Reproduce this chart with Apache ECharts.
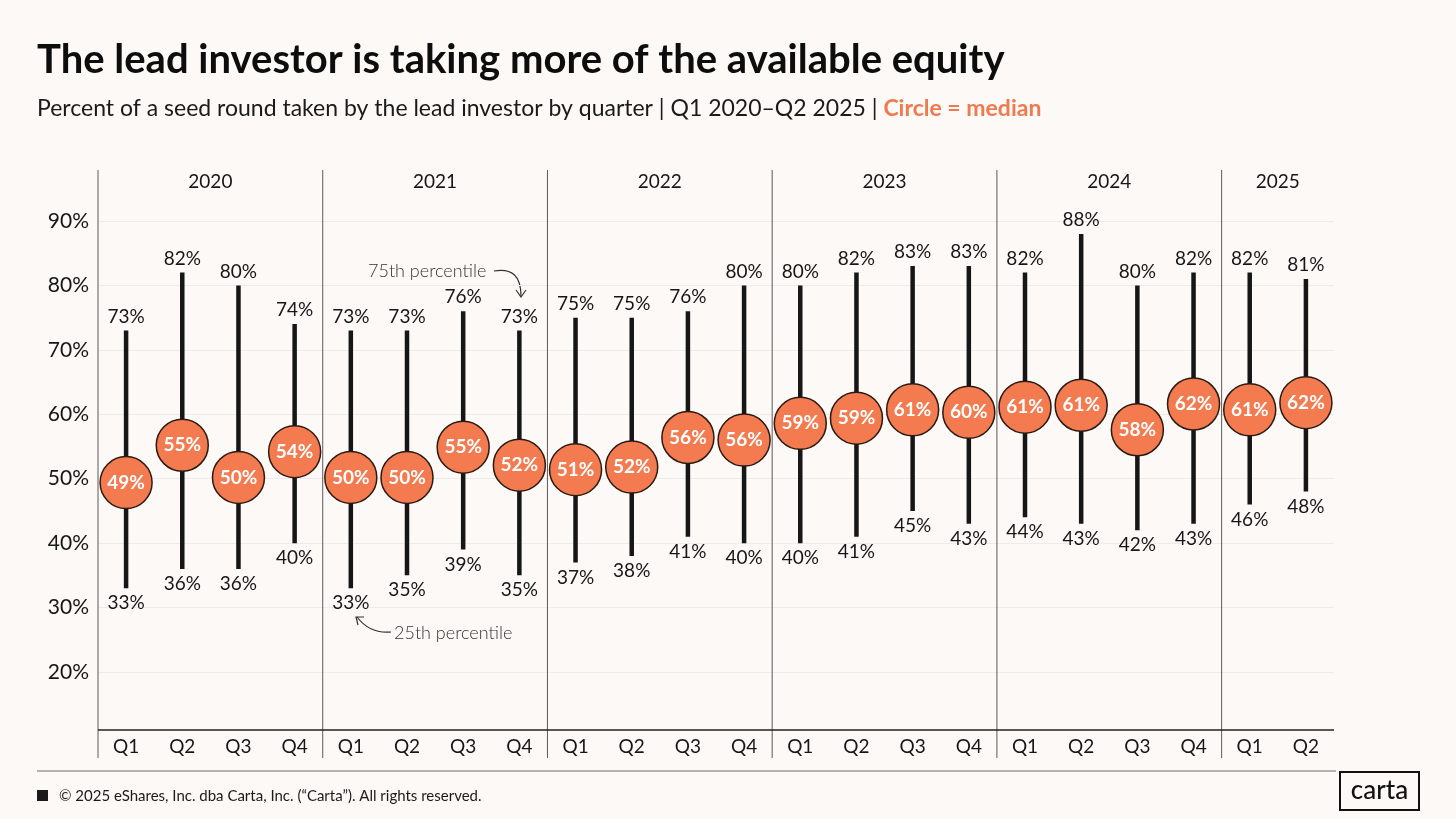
<!DOCTYPE html>
<html><head><meta charset="utf-8">
<script src="https://cdn.jsdelivr.net/npm/echarts@6/dist/echarts.min.js"></script>
<style>html,body{margin:0;padding:0;background:#FCF9F7}#c{width:1456px;height:819px}</style>
</head><body><div id="c"></div>
<script>
// ---- data ----
const quarters = ['Q1','Q2','Q3','Q4','Q1','Q2','Q3','Q4','Q1','Q2','Q3','Q4','Q1','Q2','Q3','Q4','Q1','Q2','Q3','Q4','Q1','Q2'];
const years = ['2020','2021','2022','2023','2024','2025'];
const quartersPerYear = [4,4,4,4,4,2];
const p75 = [73,82,80,74, 73,73,76,73, 75,75,76,80, 80,82,83,83, 82,88,80,82, 82,81];
const median = [49.4,55.2,50.2,54.2, 50.2,50.2,54.9,52.1, 51.4,51.8,56.4,56.0, 58.6,59.4,60.7,60.3, 61.1,61.4,57.6,61.6, 60.7,61.8];
const p25 = [33,36,36,40, 33,35,39,35, 37,38,41,40, 40,41,45,43, 44,43,42,43, 46,48];
const yTicks = [10,20,30,40,50,60,70,80,90,100];

const FONT = 'Lato';
const INK = '#161616';
const ORANGE = '#F47A50';

const chart = echarts.init(document.getElementById('c'));

// year groups
const yearData = [];
let s = 0;
quartersPerYear.forEach((n) => { yearData.push([s, 50, n]); s += n; });

const whiskerData = quarters.map((q, i) => [i, p25[i], p75[i]]);
const medianData = quarters.map((q, i) => [i, median[i]]);

const option = {
  backgroundColor: '#FCF9F7',
  animation: false,
  grid: { left: 98, right: 122, top: 156.6, bottom: 82.6 },
  xAxis: {
    type: 'category', data: quarters, boundaryGap: true,
    axisLine: { show: false }, axisTick: { show: false }, splitLine: { show: false },
    axisLabel: { margin: 1, color: INK, fontFamily: FONT, fontSize: 19, interval: 0 }
  },
  yAxis: {
    type: 'value', min: yTicks[0], max: yTicks[yTicks.length - 1], interval: 10,
    axisLine: { show: false }, axisTick: { show: false },
    axisLabel: { showMinLabel: false, showMaxLabel: false, margin: 9, color: INK, fontFamily: FONT, fontSize: 21,
      formatter: v => v + '%' },
    splitLine: { show: true, showMinLine: false, showMaxLine: false, lineStyle: { color: '#EFEBE8', width: 1 } }
  },
  series: [
    {
      type: 'custom', name: 'years', data: yearData, encode: { x: 0, y: 1 }, silent: true, z: 1,
      renderItem: (params, api) => {
        const start = api.value(0), count = api.value(2);
        const cs = params.coordSys;
        const band = api.size([1, 0])[0];
        const x0 = api.coord([start, 50])[0];
        const x1 = api.coord([start + count - 1, 50])[0];
        const left = x0 - band / 2;
        return { type: 'group', children: [
          { type: 'line', shape: { x1: left, y1: cs.y + 13.4, x2: left, y2: cs.y + cs.height + 21.6 },
            style: { stroke: '#5a5a5a', lineWidth: 1 } },
          { type: 'text', x: (x0 + x1) / 2, y: cs.y + 25.5,
            style: { text: years[params.dataIndex], fill: INK, fontFamily: FONT, fontSize: 19, align: 'center', verticalAlign: 'middle' } }
        ]};
      }
    },
    {
      type: 'custom', name: 'range', data: whiskerData, encode: { x: 0, y: [1, 2] }, silent: true, z: 2,
      renderItem: (params, api) => {
        const i = api.value(0);
        const lo = api.coord([i, api.value(1)]);
        const hi = api.coord([i, api.value(2)]);
        return { type: 'group', children: [
          { type: 'line', shape: { x1: hi[0], y1: hi[1], x2: lo[0], y2: lo[1] },
            style: { stroke: INK, lineWidth: 4.5 } },
          { type: 'text', x: hi[0], y: hi[1] - 14,
            style: { text: api.value(2) + '%', fill: INK, fontFamily: FONT, fontSize: 19, align: 'center', verticalAlign: 'middle' } },
          { type: 'text', x: lo[0], y: lo[1] + 15,
            style: { text: api.value(1) + '%', fill: INK, fontFamily: FONT, fontSize: 19, align: 'center', verticalAlign: 'middle' } }
        ]};
      }
    },
    {
      type: 'scatter', name: 'median', data: medianData, symbolSize: 52, z: 5, silent: true,
      itemStyle: { color: ORANGE, borderColor: '#2B1A12', borderWidth: 1.5, opacity: 1 },
      label: { show: true, position: 'inside', color: '#fff', fontFamily: FONT, fontWeight: 'bold', fontSize: 19,
        formatter: p => Math.round(p.value[1]) + '%' },
      markLine: { silent: true, symbol: 'none', animation: false,
        data: [{ yAxis: 11 }], label: { show: false },
        lineStyle: { color: '#222', width: 1.6, type: 'solid' } }
    }
  ],
  graphic: [
    { type: 'text', x: 37, y: 40, style: { text: 'The lead investor is taking more of the available equity',
      fill: '#0d0d0d', fontFamily: FONT, fontWeight: 'bold', fontSize: 40 } },
    { type: 'text', x: 37, y: 97, style: {
      text: '{a|Percent of a seed round taken by the lead investor by quarter | Q1 2020–Q2 2025 | }{b|Circle = median}',
      rich: {
        a: { fill: '#1a1a1a', fontFamily: FONT, fontWeight: 400, fontSize: 23 },
        b: { fill: '#F07A4F', fontFamily: FONT, fontWeight: 'bold', fontSize: 23 }
      } } },
    // annotations
    { type: 'text', x: 368, y: 271, style: { text: '75th percentile', fill: '#333', fontFamily: FONT, fontWeight: 300, fontSize: 18, verticalAlign: 'middle' } },
    { type: 'bezierCurve', shape: { x1: 494, y1: 271, x2: 521, y2: 296, cpx1: 521, cpy1: 266 }, style: { stroke: '#333', lineWidth: 1.2, fill: null } },
    { type: 'polyline', shape: { points: [[516, 290], [521, 297], [526, 290]] }, style: { stroke: '#333', lineWidth: 1.2, fill: null } },
    { type: 'text', x: 394, y: 633, style: { text: '25th percentile', fill: '#333', fontFamily: FONT, fontWeight: 300, fontSize: 18, verticalAlign: 'middle' } },
    { type: 'bezierCurve', shape: { x1: 391, y1: 632, x2: 357, y2: 617, cpx1: 370, cpy1: 634 }, style: { stroke: '#333', lineWidth: 1.2, fill: null } },
    { type: 'polyline', shape: { points: [[358, 625], [356, 617], [364, 617]] }, style: { stroke: '#333', lineWidth: 1.2, fill: null } },
    // footer
    { type: 'line', shape: { x1: 37, y1: 771, x2: 1336, y2: 771 }, style: { stroke: '#9a9a9a', lineWidth: 1.5 } },
    { type: 'rect', shape: { x: 37, y: 790, width: 11, height: 11 }, style: { fill: '#1a1a1a' } },
    { type: 'text', x: 59, y: 796, style: { text: '© 2025 eShares, Inc. dba Carta, Inc. (“Carta”). All rights reserved.', fill: '#1a1a1a', fontFamily: FONT, fontSize: 15, verticalAlign: 'middle' } },
    { type: 'rect', shape: { x: 1340, y: 772, width: 79, height: 38 }, style: { fill: 'none', stroke: '#111', lineWidth: 2 } },
    { type: 'text', x: 1379.5, y: 791, style: { text: 'carta', fill: '#111', fontFamily: FONT, fontWeight: 500, fontSize: 26, align: 'center', verticalAlign: 'middle' } }
  ]
};
chart.setOption(option);
</script>
</body></html>
